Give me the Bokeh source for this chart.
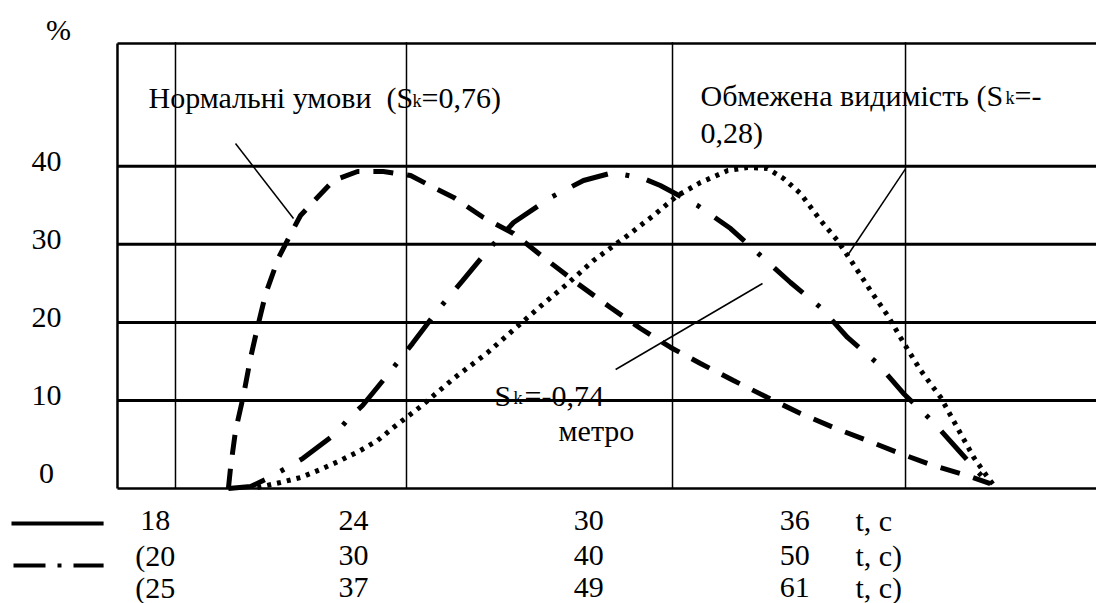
from bokeh.plotting import figure
from bokeh.models import Range1d
from bokeh.core.properties import value
from bokeh.embed import file_html
from bokeh.resources import INLINE

# ---------------- data ----------------
y_ticks = [0, 10, 20, 30, 40]
y_tick_labels = ["0", "10", "20", "30", "40"]
grid_levels = [10, 20, 30, 40]

t_ticks = [18, 24, 30, 36]                 # solid-line time scale, s
row1_labels = ["18", "24", "30", "36"]
row2_labels = ["(20", "30", "40", "50"]
row3_labels = ["(25", "37", "49", "61"]
unit_labels = ["t, c", "t, c)", "t, c)"]

# Нормальні умови (dashed)
normal_t = [20.18, 20.24, 20.38, 20.60, 20.80, 20.99, 21.22, 21.58, 21.97, 22.19,
            22.66, 23.11, 23.78, 24.50, 25.26, 25.90, 26.46, 27.29, 28.13, 28.97,
            29.91, 30.83, 31.67, 32.51, 33.34, 34.26, 35.21, 36.13, 37.05, 37.99,
            38.91, 39.83, 40.78, 41.42]
normal_p = [-1.27, 1.42, 6.16, 10.64, 15.51, 19.35, 23.70, 28.30, 31.77, 33.69,
            36.00, 38.17, 39.32, 39.32, 38.81, 37.27, 36.00, 33.43, 31.38, 28.31,
            24.98, 21.91, 19.22, 16.79, 14.74, 12.56, 10.38, 8.34, 6.54, 4.88,
            3.21, 1.68, 0.40, -0.63]

# метро (dash-dot)
metro_t = [20.18, 20.80, 21.27, 21.77, 22.25, 23.17, 23.53, 23.92, 24.65, 25.31,
           26.01, 26.71, 27.43, 28.13, 29.16, 30.08, 30.91, 31.75, 32.22, 33.26,
           34.18, 35.01, 35.85, 36.69, 37.44, 38.28, 39.00, 39.84, 40.54, 41.37]
metro_p = [-1.27, -1.01, 0.01, 1.29, 2.57, 5.77, 7.69, 9.36, 13.46, 17.29,
           21.52, 25.36, 29.33, 32.79, 35.99, 38.17, 39.19, 38.42, 37.53, 34.97,
           32.02, 28.57, 25.11, 21.91, 18.07, 14.74, 10.90, 7.19, 3.60, -0.63]

# Обмежена видимість (dotted)
limited_t = [20.99, 21.63, 22.19, 22.75, 23.30, 23.86, 24.34, 24.78, 25.54, 26.46,
             27.41, 28.33, 28.97, 29.64, 30.36, 31.31, 32.03, 32.70, 33.34, 34.10,
             34.65, 35.21, 35.66, 36.13, 36.69, 37.16, 37.72, 38.08, 38.56, 39.00,
             39.48, 40.04, 40.59, 40.96, 41.35, 41.57]
limited_p = [-1.14, -0.50, 0.14, 1.17, 2.32, 3.60, 4.88, 6.54, 9.23, 12.82,
             16.15, 19.86, 22.42, 24.98, 27.93, 31.13, 33.69, 36.24, 37.91, 39.44,
             39.83, 39.71, 38.42, 36.50, 33.05, 30.49, 26.64, 24.08, 20.88, 17.42,
             13.84, 10.38, 5.78, 2.71, 0.14, -1.14]

# ---------------- layout ----------------
FONT = value("Liberation Serif")
FS = "30px"
SUB = "18px"

X0, X1 = 13.8266, 44.381
Y0, Y1 = -15.99, 61.216
BOX_L, BOX_R, BOX_T, BOX_B = 17.088, 44.6, 55.71, -1.27
VGRID = [18.705, 25.145, 32.561, 39.057]
LABEL_NUDGE = [5, -12, 8, -1]          # px, where the scanned labels sit

p = figure(width=1096, height=603, output_backend="svg", toolbar_location=None,
           x_range=Range1d(X0, X1), y_range=Range1d(Y0, Y1),
           x_axis_type=None, y_axis_type=None)
p.min_border = 0
p.min_border_left = p.min_border_right = p.min_border_top = p.min_border_bottom = 0
p.outline_line_color = None
p.background_fill_color = "white"
p.border_fill_color = "white"
p.xgrid.visible = False
p.ygrid.visible = False

# frame of the chart
p.segment(x0=[BOX_L, BOX_L, BOX_L], y0=[BOX_T, BOX_B, BOX_B],
          x1=[BOX_R, BOX_R, BOX_L], y1=[BOX_T, BOX_B, BOX_T],
          line_color="black", line_width=2.5)
# horizontal grid lines
p.segment(x0=[BOX_L] * len(grid_levels), y0=grid_levels,
          x1=[BOX_R] * len(grid_levels), y1=grid_levels,
          line_color="black", line_width=3)
# vertical grid lines
p.segment(x0=VGRID, y0=[BOX_B] * 4, x1=VGRID, y1=[BOX_T + 0.15] * 4,
          line_color="black", line_width=1.5)

# curves
p.line(normal_t, normal_p, line_color="black", line_width=5, line_dash="20 14")
p.line(metro_t, metro_p, line_color="black", line_width=5, line_dash="38 18 4 18")
p.line(limited_t, limited_p, line_color="black", line_width=5, line_dash="4 6")

# pointer lines
p.segment(x0=[20.378, 39.06, 30.976], y0=[42.91, 39.69, 13.97],
          x1=[21.995, 37.44, 35.07], y1=[33.30, 28.57, 24.98],
          line_color="black", line_width=1.5)

# y labels
p.text(x=[15.109] * len(y_ticks), y=y_ticks, text=y_tick_labels,
       text_font=FONT, text_font_size=FS, text_align="center",
       text_baseline="middle", y_offset=-5, text_color="black")
p.text(x=[15.444], y=[57.55], text=["%"], text_font=FONT, text_font_size=FS,
       text_align="center", text_baseline="middle", text_color="black")

# x label rows
rows = [row1_labels, row2_labels, row3_labels]
row_y = [-5.365, -9.846, -13.944]
for labels, ry, unit in zip(rows, row_y, unit_labels):
    p.text(x=t_ticks, y=[ry] * len(t_ticks), text=labels, text_font=FONT,
           text_font_size=FS, text_align="center", text_baseline="middle",
           x_offset=LABEL_NUDGE, text_color="black")
    p.text(x=[37.66], y=[ry], text=[unit], text_font=FONT, text_font_size=FS,
           text_align="left", text_baseline="middle", text_color="black")

# line-style keys of the time scales
p.segment(x0=[14.133], y0=[-5.75], x1=[16.701], y1=[-5.75],
          line_color="black", line_width=4)
p.segment(x0=[14.189], y0=[-11.12], x1=[16.701], y1=[-11.12],
          line_color="black", line_width=4, line_dash="32 12 4 12")

# annotations
def txt(x, y, s, size=FS):
    p.text(x=[x], y=[y], text=[s], text_font=FONT, text_font_size=size,
           text_align="left", text_baseline="alphabetic", text_color="black")

txt(17.953, 48.784, "Нормальні умови\u00a0 (S")
txt(25.313, 48.40, "k", SUB)
txt(25.564, 48.784, "=0,76)")

txt(33.342, 49.05, "Обмежена видимість (S")
txt(41.845, 48.67, "k", SUB)
txt(42.096, 49.05, "=-")
txt(33.342, 44.31, "0,28)")

txt(27.598, 10.64, "S")
txt(28.128, 10.26, "k", SUB)
txt(28.435, 10.64, "=-0,74")
txt(29.385, 6.159, "метро")

open("out.html", "w").write(file_html(p, INLINE))
